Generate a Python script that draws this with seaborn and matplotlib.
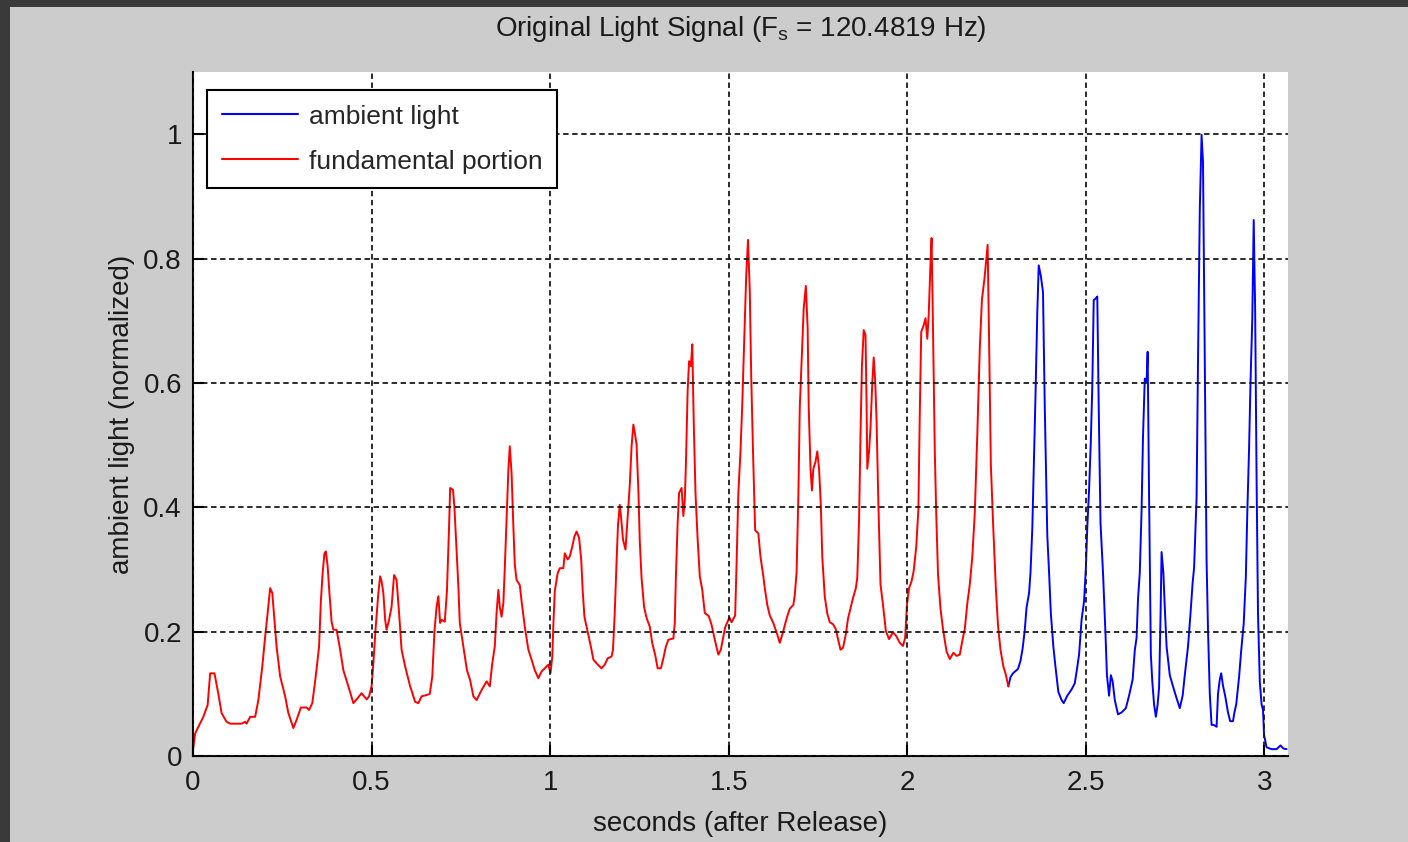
import matplotlib
matplotlib.use("Agg")
import matplotlib.pyplot as plt
import pandas as pd
import seaborn as sns
from matplotlib.patches import Rectangle

# values (seconds, normalized light)
red_t = [
    0.000, 0.006, 0.015, 0.029, 0.041, 0.048, 0.060, 0.071, 0.080, 0.094, 0.104, 0.136, 0.146, 0.150,
    0.160, 0.174, 0.183, 0.194, 0.202, 0.209, 0.216, 0.222, 0.228, 0.234, 0.244, 0.258, 0.267, 0.281,
    0.290, 0.302, 0.318, 0.325, 0.334, 0.343, 0.353, 0.358, 0.363, 0.368, 0.372, 0.377, 0.382, 0.388,
    0.393, 0.402, 0.412, 0.421, 0.435, 0.449, 0.461, 0.472, 0.486, 0.493, 0.500, 0.505, 0.511, 0.519,
    0.524, 0.528, 0.533, 0.538, 0.542, 0.549, 0.556, 0.563, 0.570, 0.577, 0.584, 0.594, 0.608, 0.622,
    0.631, 0.640, 0.654, 0.663, 0.670, 0.676, 0.682, 0.687, 0.692, 0.696, 0.705, 0.711, 0.717, 0.720,
    0.728, 0.732, 0.738, 0.743, 0.747, 0.757, 0.767, 0.776, 0.785, 0.794, 0.808, 0.822, 0.831, 0.838,
    0.845, 0.850, 0.855, 0.859, 0.864, 0.869, 0.873, 0.878, 0.883, 0.887, 0.892, 0.897, 0.901, 0.906,
    0.915, 0.920, 0.929, 0.939, 0.948, 0.957, 0.967, 0.976, 0.985, 0.995, 1.001, 1.006, 1.009, 1.013,
    1.021, 1.027, 1.037, 1.041, 1.049, 1.055, 1.062, 1.068, 1.074, 1.081, 1.087, 1.091, 1.096, 1.102,
    1.107, 1.114, 1.121, 1.130, 1.144, 1.153, 1.161, 1.172, 1.176, 1.181, 1.186, 1.190, 1.195, 1.200,
    1.204, 1.211, 1.216, 1.223, 1.228, 1.233, 1.237, 1.242, 1.247, 1.251, 1.256, 1.263, 1.270, 1.279,
    1.286, 1.294, 1.301, 1.310, 1.317, 1.324, 1.331, 1.345, 1.349, 1.352, 1.357, 1.361, 1.368, 1.373,
    1.377, 1.380, 1.385, 1.389, 1.394, 1.398, 1.402, 1.407, 1.413, 1.419, 1.426, 1.433, 1.444, 1.452,
    1.461, 1.471, 1.478, 1.490, 1.496, 1.502, 1.508, 1.518, 1.522, 1.527, 1.533, 1.538, 1.543, 1.549,
    1.554, 1.559, 1.563, 1.568, 1.574, 1.583, 1.589, 1.597, 1.601, 1.608, 1.615, 1.624, 1.634, 1.643,
    1.652, 1.662, 1.671, 1.681, 1.685, 1.690, 1.695, 1.699, 1.705, 1.710, 1.716, 1.721, 1.724, 1.729,
    1.733, 1.737, 1.743, 1.748, 1.753, 1.758, 1.762, 1.769, 1.776, 1.783, 1.792, 1.800, 1.806, 1.813,
    1.820, 1.828, 1.834, 1.842, 1.848, 1.856, 1.860, 1.865, 1.869, 1.873, 1.878, 1.883, 1.886, 1.888,
    1.893, 1.897, 1.902, 1.906, 1.910, 1.914, 1.919, 1.925, 1.932, 1.940, 1.949, 1.960, 1.969, 1.979,
    1.988, 1.994, 1.999, 2.005, 2.012, 2.018, 2.025, 2.031, 2.035, 2.039, 2.046, 2.051, 2.056, 2.060,
    2.065, 2.068, 2.072, 2.077, 2.081, 2.086, 2.093, 2.100, 2.110, 2.119, 2.129, 2.138, 2.147, 2.155,
    2.161, 2.168, 2.175, 2.182, 2.189, 2.196, 2.203, 2.209, 2.216, 2.222, 2.225, 2.229, 2.234, 2.241,
    2.248, 2.254, 2.261, 2.269, 2.275, 2.283,
]
red_y = [
    0.010, 0.036, 0.047, 0.063, 0.082, 0.133, 0.133, 0.100, 0.069, 0.055, 0.052, 0.052, 0.055, 0.052,
    0.063, 0.063, 0.090, 0.144, 0.192, 0.230, 0.270, 0.262, 0.220, 0.176, 0.128, 0.096, 0.069, 0.045,
    0.058, 0.078, 0.078, 0.074, 0.085, 0.125, 0.176, 0.249, 0.294, 0.326, 0.329, 0.305, 0.262, 0.216,
    0.203, 0.203, 0.171, 0.138, 0.112, 0.085, 0.093, 0.101, 0.091, 0.096, 0.112, 0.149, 0.203, 0.262,
    0.289, 0.281, 0.262, 0.219, 0.203, 0.219, 0.240, 0.291, 0.283, 0.230, 0.171, 0.144, 0.112, 0.087,
    0.085, 0.096, 0.098, 0.100, 0.128, 0.200, 0.240, 0.257, 0.214, 0.219, 0.216, 0.265, 0.369, 0.431,
    0.428, 0.400, 0.330, 0.273, 0.214, 0.176, 0.138, 0.122, 0.096, 0.090, 0.106, 0.120, 0.112, 0.149,
    0.176, 0.230, 0.267, 0.240, 0.224, 0.246, 0.302, 0.383, 0.460, 0.498, 0.455, 0.369, 0.308, 0.283,
    0.275, 0.249, 0.208, 0.171, 0.155, 0.138, 0.125, 0.136, 0.141, 0.147, 0.133, 0.160, 0.211, 0.265,
    0.294, 0.302, 0.302, 0.326, 0.316, 0.321, 0.337, 0.353, 0.361, 0.351, 0.316, 0.267, 0.224, 0.208,
    0.195, 0.176, 0.155, 0.149, 0.141, 0.147, 0.157, 0.160, 0.171, 0.232, 0.313, 0.372, 0.404, 0.375,
    0.348, 0.332, 0.375, 0.436, 0.498, 0.533, 0.520, 0.501, 0.428, 0.345, 0.286, 0.240, 0.222, 0.208,
    0.181, 0.163, 0.141, 0.141, 0.157, 0.176, 0.187, 0.189, 0.214, 0.286, 0.375, 0.423, 0.431, 0.386,
    0.412, 0.466, 0.587, 0.635, 0.627, 0.662, 0.538, 0.423, 0.348, 0.289, 0.267, 0.230, 0.225, 0.211,
    0.187, 0.163, 0.171, 0.207, 0.215, 0.223, 0.215, 0.226, 0.309, 0.424, 0.490, 0.567, 0.663, 0.773,
    0.830, 0.748, 0.611, 0.490, 0.363, 0.358, 0.320, 0.289, 0.270, 0.243, 0.226, 0.215, 0.199, 0.182,
    0.199, 0.221, 0.237, 0.243, 0.259, 0.295, 0.418, 0.561, 0.646, 0.720, 0.756, 0.688, 0.561, 0.462,
    0.427, 0.462, 0.473, 0.490, 0.462, 0.402, 0.320, 0.256, 0.229, 0.215, 0.212, 0.204, 0.188, 0.171,
    0.174, 0.196, 0.221, 0.240, 0.254, 0.270, 0.287, 0.380, 0.517, 0.627, 0.685, 0.677, 0.567, 0.462,
    0.490, 0.528, 0.600, 0.641, 0.605, 0.539, 0.407, 0.276, 0.243, 0.201, 0.188, 0.199, 0.193, 0.182,
    0.177, 0.190, 0.243, 0.270, 0.281, 0.298, 0.336, 0.396, 0.550, 0.682, 0.693, 0.704, 0.671, 0.710,
    0.792, 0.833, 0.688, 0.490, 0.391, 0.292, 0.237, 0.204, 0.168, 0.156, 0.166, 0.161, 0.163, 0.188,
    0.204, 0.245, 0.276, 0.320, 0.391, 0.517, 0.655, 0.734, 0.767, 0.803, 0.822, 0.671, 0.468, 0.363,
    0.270, 0.210, 0.171, 0.144, 0.133, 0.112,
]
blue_t = [
    2.283, 2.289, 2.296, 2.310, 2.317, 2.323, 2.329, 2.334, 2.341, 2.345, 2.350, 2.354, 2.359, 2.364,
    2.368, 2.374, 2.380, 2.385, 2.392, 2.397, 2.402, 2.409, 2.415, 2.423, 2.432, 2.438, 2.448, 2.460,
    2.469, 2.476, 2.481, 2.488, 2.495, 2.500, 2.504, 2.509, 2.514, 2.518, 2.522, 2.528, 2.532, 2.536,
    2.541, 2.548, 2.555, 2.559, 2.565, 2.570, 2.575, 2.581, 2.590, 2.600, 2.612, 2.621, 2.631, 2.637,
    2.642, 2.646, 2.651, 2.656, 2.660, 2.665, 2.670, 2.673, 2.677, 2.682, 2.686, 2.691, 2.696, 2.701,
    2.705, 2.709, 2.712, 2.717, 2.721, 2.726, 2.735, 2.745, 2.754, 2.763, 2.771, 2.777, 2.786, 2.793,
    2.799, 2.803, 2.810, 2.814, 2.819, 2.824, 2.828, 2.833, 2.838, 2.842, 2.847, 2.852, 2.858, 2.866,
    2.870, 2.875, 2.879, 2.884, 2.890, 2.898, 2.904, 2.912, 2.916, 2.921, 2.929, 2.935, 2.942, 2.948,
    2.952, 2.957, 2.961, 2.966, 2.970, 2.974, 2.978, 2.982, 2.987, 2.992, 2.996, 2.999, 3.006, 3.020,
    3.034, 3.045, 3.053, 3.062,
]
blue_y = [
    0.112, 0.127, 0.133, 0.140, 0.153, 0.173, 0.203, 0.239, 0.262, 0.295, 0.365, 0.461, 0.580, 0.713,
    0.789, 0.772, 0.746, 0.560, 0.355, 0.295, 0.229, 0.176, 0.143, 0.103, 0.090, 0.085, 0.097, 0.107,
    0.117, 0.143, 0.163, 0.219, 0.249, 0.302, 0.368, 0.428, 0.508, 0.594, 0.733, 0.736, 0.739, 0.561,
    0.375, 0.295, 0.196, 0.130, 0.097, 0.130, 0.120, 0.090, 0.067, 0.070, 0.077, 0.097, 0.123, 0.170,
    0.190, 0.252, 0.295, 0.395, 0.514, 0.607, 0.600, 0.650, 0.418, 0.163, 0.120, 0.083, 0.063, 0.083,
    0.110, 0.222, 0.328, 0.295, 0.239, 0.176, 0.130, 0.110, 0.093, 0.077, 0.097, 0.130, 0.176, 0.229,
    0.279, 0.302, 0.415, 0.633, 0.878, 0.999, 0.955, 0.643, 0.315, 0.203, 0.100, 0.050, 0.050, 0.047,
    0.100, 0.123, 0.133, 0.113, 0.097, 0.070, 0.056, 0.056, 0.070, 0.083, 0.127, 0.170, 0.213, 0.289,
    0.391, 0.494, 0.600, 0.703, 0.862, 0.719, 0.448, 0.229, 0.120, 0.083, 0.074, 0.034, 0.014, 0.011,
    0.011, 0.017, 0.012, 0.011,
]

x_ticks = [0, 0.5, 1, 1.5, 2, 2.5, 3]
x_tick_labels = ["0", "0.5", "1", "1.5", "2", "2.5", "3"]
y_ticks = [0, 0.2, 0.4, 0.6, 0.8, 1]
y_tick_labels = ["0", "0.2", "0.4", "0.6", "0.8", "1"]

sns.set_style("ticks")
plt.rcParams["font.family"] = ["Liberation Sans Narrow", "Liberation Sans", "DejaVu Sans"]
plt.rcParams["mathtext.default"] = "regular"

fig = plt.figure(figsize=(14.08, 8.42), dpi=100, facecolor="#3a3a3a")
fig.add_artist(Rectangle((10 / 1408, 0), 1, 1 - 7 / 842, transform=fig.transFigure,
                         facecolor="#cccccc", edgecolor="none", zorder=-1))
ax = fig.add_axes([193 / 1408, 1 - 756 / 842, 1095 / 1408, 684 / 842])
ax.set_facecolor("white")

blue = pd.DataFrame({"t": blue_t, "y": blue_y})
red = pd.DataFrame({"t": red_t, "y": red_y})
sns.lineplot(data=blue, x="t", y="y", ax=ax, color="#0000ff", lw=1.4,
             sort=False, estimator=None, label="ambient light")
sns.lineplot(data=red, x="t", y="y", ax=ax, color="#ff0000", lw=1.4,
             sort=False, estimator=None, label="fundamental portion")

ax.set_xlim(0, 3.066)
ax.set_ylim(0, 1.1)
ax.set_xticks(x_ticks, x_tick_labels)
ax.set_yticks(y_ticks, y_tick_labels)
ax.grid(True, linestyle=(0, (3, 2)), color="#1a1a1a", lw=1.3)
ax.set_axisbelow(False)
for side in ("top", "right"):
    ax.spines[side].set_visible(False)
for side in ("left", "bottom"):
    ax.spines[side].set_linewidth(1.5)
    ax.spines[side].set_color("black")
ax.tick_params(direction="in", length=8, width=1.5, labelsize=20, colors="black",
               labelcolor="#1a1a1a")
ax.tick_params(axis="x", pad=10)
ax.tick_params(axis="y", pad=8)

ax.set_title(r"Original Light Signal (F$_{s}$ = 120.4819 Hz)", fontsize=20,
             color="#1a1a1a", pad=26)
ax.set_xlabel("seconds (after Release)", fontsize=20, color="#1a1a1a", labelpad=11)
ax.set_ylabel("ambient light (normalized)", fontsize=20, color="#1a1a1a", labelpad=6)

leg = ax.legend(loc="upper left", bbox_to_anchor=(0.0128, 0.974), borderaxespad=0,
                fontsize=19, fancybox=False, framealpha=1, edgecolor="black",
                handlelength=2.9, handletextpad=0.4, labelspacing=0.8, borderpad=0.56)
leg.get_frame().set_linewidth(1.5)
for line in leg.get_lines():
    line.set_linewidth(1.5)

fig.savefig("out.png", dpi=100, facecolor=fig.get_facecolor())
